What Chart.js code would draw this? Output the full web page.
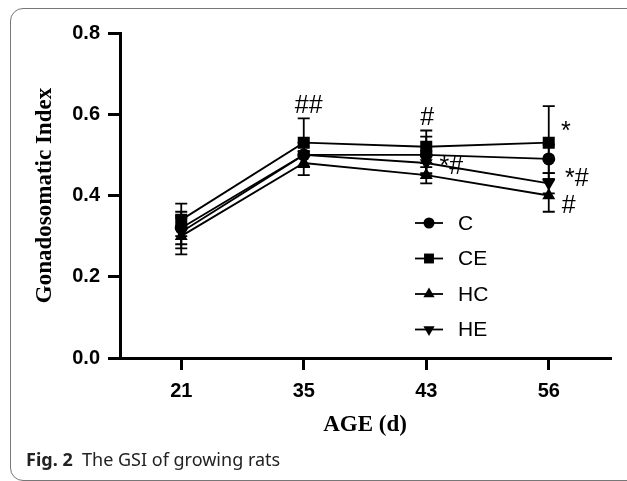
<!DOCTYPE html>
<html>
<head>
  <title>GSI of growing rats</title>
  <script src="https://cdn.jsdelivr.net/npm/chart.js"></script>
  <style>
    body { margin: 0; background: #fff; }
    #wrap { position: relative; width: 627px; height: 481px; overflow: hidden; }
    #frame { position: absolute; left: 10px; top: 8px; width: 640px; height: 471px;
             border: 1px solid #777; border-radius: 13px; }
    #gsi { position: absolute; left: 0; top: 0; }
    #caption { position: absolute; left: 26px; top: 447px; font-family: "Noto Sans", sans-serif;
               font-size: 18px; color: #222; white-space: pre; }
  </style>
</head>
<body>
  <div id="wrap">
    <div id="frame"></div>
    <canvas id="gsi" width="627" height="481"></canvas>
    <div id="caption"><b>Fig. 2</b>  The GSI of growing rats</div>
  </div>

  <script>
    // ages (days) and group means / SD
    const ages = ['21', '35', '43', '56'];
    const groups = ['C', 'CE', 'HC', 'HE'];
    const gsiC  = [0.32, 0.50, 0.50, 0.49];
    const gsiCE = [0.34, 0.53, 0.52, 0.53];
    const gsiHC = [0.30, 0.48, 0.45, 0.40];
    const gsiHE = [0.31, 0.50, 0.48, 0.43];
    const sdC  = [0.04, 0.03, 0.045, 0.035];
    const sdCE = [0.04, 0.06, 0.04, 0.09];
    const sdHC = [0.045, 0.03, 0.02, 0.04];
    const sdHE = [0.04, 0.03, 0.03, 0.025];
    const yTicks = [0, 0.2, 0.4, 0.6, 0.8];

    // significance marks: text, age, value where the mark sits
    const noteText  = ['##', '#', '*#', '*', '*#', '#'];
    const noteAge   = ['35', '43', '43', '56', '56', '56'];
    const noteValue = [0.62, 0.59, 0.47, 0.555, 0.44, 0.375];

    const styles = {
      C:  { pointStyle: 'circle',   radius: 6.5, rotation: 0 },
      CE: { pointStyle: 'rect',     radius: 8.5, rotation: 0 },
      HC: { pointStyle: 'triangle', radius: 7.5, rotation: 0 },
      HE: { pointStyle: 'triangle', radius: 7.5, rotation: 180 }
    };
    const means = { C: gsiC, CE: gsiCE, HC: gsiHC, HE: gsiHE };
    const sds = { C: sdC, CE: sdCE, HC: sdHC, HE: sdHE };

    const datasets = groups.map(g => ({
      label: g,
      data: means[g],
      sd: sds[g],
      borderColor: '#000',
      backgroundColor: '#000',
      borderWidth: 1.8,
      pointStyle: styles[g].pointStyle,
      pointRadius: styles[g].radius,
      pointRotation: styles[g].rotation,
      pointBorderWidth: 0,
      pointBackgroundColor: '#000',
      tension: 0
    }));

    const errorBars = {
      id: 'errorBars',
      beforeDatasetsDraw(chart) {
        const ctx = chart.ctx;
        const x = chart.scales.x, y = chart.scales.y;
        ctx.save();
        ctx.strokeStyle = '#000';
        ctx.lineWidth = 1.8;
        chart.data.datasets.forEach(ds => {
          ds.data.forEach((v, i) => {
            const px = x.getPixelForValue(i);
            const top = y.getPixelForValue(v + ds.sd[i]);
            const bot = y.getPixelForValue(v - ds.sd[i]);
            ctx.beginPath();
            ctx.moveTo(px, top); ctx.lineTo(px, bot);
            ctx.moveTo(px - 6, top); ctx.lineTo(px + 6, top);
            ctx.moveTo(px - 6, bot); ctx.lineTo(px + 6, bot);
            ctx.stroke();
          });
        });
        ctx.restore();
      }
    };

    function marker(ctx, style, r, x, y) {
      ctx.beginPath();
      if (style === 'circle') {
        ctx.arc(x, y, r, 0, Math.PI * 2);
      } else if (style === 'rect') {
        const s = r * Math.SQRT1_2;
        ctx.rect(x - s, y - s, 2 * s, 2 * s);
      } else {
        const dir = style === 'down' ? -1 : 1;
        const h = r * 1.5, w = r * Math.sqrt(3) / 2;
        ctx.moveTo(x, y - dir * h * 2 / 3);
        ctx.lineTo(x + w, y + dir * h / 3);
        ctx.lineTo(x - w, y + dir * h / 3);
        ctx.closePath();
      }
      ctx.fill();
    }

    const notesAndLegend = {
      id: 'notesAndLegend',
      afterDraw(chart) {
        const ctx = chart.ctx;
        const x = chart.scales.x, y = chart.scales.y;
        const dx = [5, 1, 25, 17, 28, 20];
        ctx.save();
        ctx.fillStyle = '#000';
        ctx.textAlign = 'center';
        ctx.textBaseline = 'middle';
        ctx.font = '25px "Liberation Sans", Arial, sans-serif';
        noteText.forEach((t, i) => {
          const px = x.getPixelForValue(ages.indexOf(noteAge[i])) + dx[i];
          ctx.fillText(t, px, y.getPixelForValue(noteValue[i]));
        });

        // legend
        const lx = 415, ly = 223, step = 35.5;
        const legendShape = { C: ['circle', 5.5], CE: ['rect', 7], HC: ['up', 6.5], HE: ['down', 6.5] };
        ctx.textAlign = 'left';
        ctx.font = '21px "Liberation Sans", Arial, sans-serif';
        ctx.strokeStyle = '#000';
        ctx.lineWidth = 1.8;
        groups.forEach((g, i) => {
          const yy = ly + i * step;
          ctx.beginPath();
          ctx.moveTo(lx, yy); ctx.lineTo(lx + 28, yy);
          ctx.stroke();
          marker(ctx, legendShape[g][0], legendShape[g][1], lx + 14, yy);
          ctx.fillText(g, lx + 43, yy + 1);
        });
        ctx.restore();
      }
    };

    new Chart(document.getElementById('gsi'), {
      type: 'line',
      data: { labels: ages, datasets: datasets },
      options: {
        responsive: false,
        animation: false,
        layout: { padding: { top: 33, right: 17, left: 0, bottom: 0 } },
        plugins: { legend: { display: false }, tooltip: { enabled: false } },
        scales: {
          x: {
            offset: true,
            afterFit: s => { s.height = 123; },
            grid: { drawOnChartArea: false, tickLength: 12, lineWidth: 3, color: '#000', offset: false },
            border: { display: true, width: 3, color: '#000' },
            ticks: { color: '#000', padding: 9, font: { family: '"Liberation Sans", Arial', size: 20, weight: 'bold' } },
            title: {
              display: true, text: 'AGE (d)', color: '#000',
              font: { family: '"Liberation Serif", "Times New Roman", serif', size: 23, weight: 'bold' },
              padding: { top: 0, bottom: 42 }
            }
          },
          y: {
            min: 0, max: 0.8,
            afterFit: s => { s.width = 120; },
            afterBuildTicks: s => { s.ticks = yTicks.map(v => ({ value: v })); },
            grid: { drawOnChartArea: false, tickLength: 12, lineWidth: 3, color: '#000' },
            border: { display: true, width: 3, color: '#000' },
            ticks: {
              color: '#000', padding: 8,
              font: { family: '"Liberation Sans", Arial', size: 20, weight: 'bold' },
              callback: v => v.toFixed(1)
            },
            title: {
              display: true, text: 'Gonadosomatic Index', color: '#000',
              font: { family: '"Liberation Serif", "Times New Roman", serif', size: 23, weight: 'bold' },
              padding: { top: 31, bottom: 0 }
            }
          }
        }
      },
      plugins: [errorBars, notesAndLegend]
    });
  </script>
</body>
</html>
